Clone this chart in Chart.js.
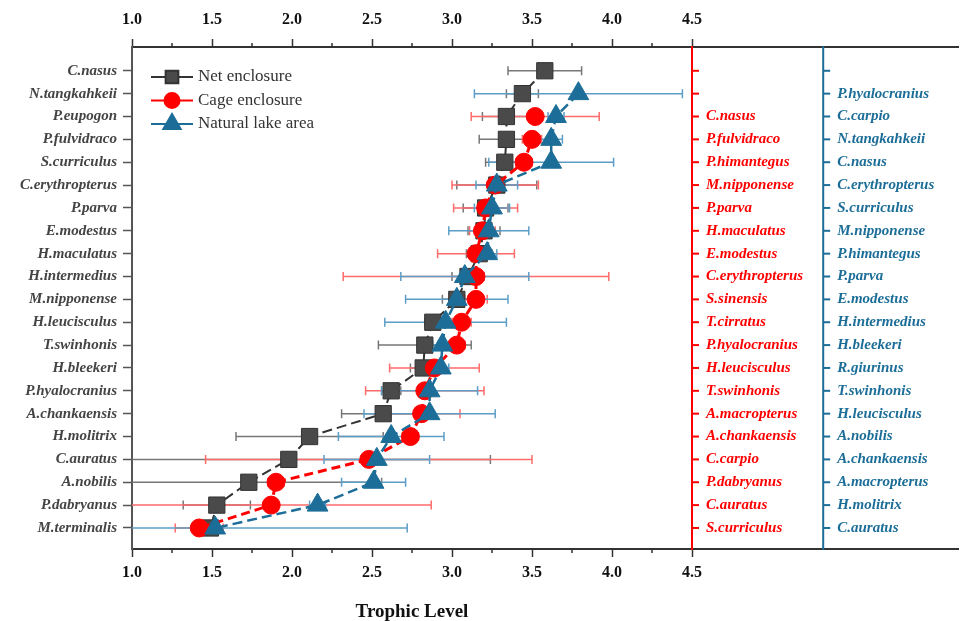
<!DOCTYPE html>
<html>
<head>
<meta charset="utf-8">
<title>Trophic level</title>
<script src="https://cdn.jsdelivr.net/npm/chart.js@4.4.1/dist/chart.umd.min.js"></script>
<style>
  html, body { margin: 0; padding: 0; background: #fff; }
  #wrap { width: 963px; height: 621px; }
</style>
</head>
<body>
<div id="wrap"><canvas id="tlChart" width="963" height="621"></canvas></div>
<script>
// species per row, top to bottom (left axis = net enclosure)
const netSpecies = ['C.nasus', 'N.tangkahkeii', 'P.eupogon', 'P.fulvidraco', 'S.curriculus',
  'C.erythropterus', 'P.parva', 'E.modestus', 'H.maculatus', 'H.intermedius', 'M.nipponense',
  'H.leucisculus', 'T.swinhonis', 'H.bleekeri', 'P.hyalocranius', 'A.chankaensis', 'H.molitrix',
  'C.auratus', 'A.nobilis', 'P.dabryanus', 'M.terminalis'];
const cageSpecies = [null, null, 'C.nasus', 'P.fulvidraco', 'P.himantegus', 'M.nipponense', 'P.parva',
  'H.maculatus', 'E.modestus', 'C.erythropterus', 'S.sinensis', 'T.cirratus', 'P.hyalocranius',
  'H.leucisculus', 'T.swinhonis', 'A.macropterus', 'A.chankaensis', 'C.carpio', 'P.dabryanus',
  'C.auratus', 'S.curriculus'];
const lakeSpecies = [null, 'P.hyalocranius', 'C.carpio', 'N.tangkahkeii', 'C.nasus', 'C.erythropterus',
  'S.curriculus', 'M.nipponense', 'P.himantegus', 'P.parva', 'E.modestus', 'H.intermedius',
  'H.bleekeri', 'R.giurinus', 'T.swinhonis', 'H.leucisculus', 'A.nobilis', 'A.chankaensis',
  'A.macropterus', 'H.molitrix', 'C.auratus'];

// mean trophic level and SD per row
const netTL = [3.58, 3.44, 3.34, 3.34, 3.33, 3.28, 3.21, 3.20, 3.17, 3.10, 3.03,
  2.88, 2.83, 2.82, 2.62, 2.57, 2.11, 1.98, 1.73, 1.53, 1.49];
const netSD = [0.23, 0.10, 0.15, 0.17, 0.12, 0.25, 0.14, 0.10, 0.08, 0.10, 0.09,
  0.05, 0.29, 0.08, 0.06, 0.26, 0.46, 1.26, 0.83, 0.21, 0.05];
const cageTL = [null, null, 3.52, 3.50, 3.45, 3.27, 3.21, 3.19, 3.15, 3.15, 3.15,
  3.06, 3.03, 2.89, 2.83, 2.81, 2.74, 2.48, 1.90, 1.87, 1.42];
const cageSD = [null, null, 0.40, 0.06, 0.05, 0.27, 0.20, 0.08, 0.24, 0.83, 0.07,
  0.06, 0.05, 0.28, 0.37, 0.24, 0.05, 1.02, 0.05, 1.00, 0.15];
const lakeTL = [null, 3.79, 3.65, 3.62, 3.62, 3.28, 3.25, 3.23, 3.22, 3.08, 3.03,
  2.96, 2.94, 2.93, 2.86, 2.86, 2.62, 2.53, 2.51, 2.16, 1.52];
const lakeSD = [null, 0.65, 0.05, 0.07, 0.39, 0.13, 0.11, 0.25, 0.06, 0.40, 0.32,
  0.38, 0.06, 0.05, 0.30, 0.41, 0.33, 0.33, 0.20, 0.05, 1.20];

const xTickValues = [1.0, 1.5, 2.0, 2.5, 3.0, 3.5, 4.0, 4.5];

const NET = '#4a4a4a', CAGE = '#ff0000', LAKE = '#1c6e98';
const cageAxisAt = 4.5;
const lakeAxisAt = 5.32;
const serif = '"Liberation Serif", "Times New Roman", serif';

function toPoints(values) {
  const pts = [];
  values.forEach((v, i) => { if (v !== null) pts.push({ x: v, y: i }); });
  return pts;
}

// horizontal error bars with caps, under the markers
const errorBars = {
  id: 'errorBars',
  beforeDatasetsDraw(chart) {
    const { ctx, chartArea, scales: { x, y } } = chart;
    ctx.save();
    ctx.beginPath();
    ctx.rect(chartArea.left, chartArea.top, chartArea.right - chartArea.left, chartArea.bottom - chartArea.top);
    ctx.clip();
    ctx.lineWidth = 1.5;
    chart.data.datasets.forEach(ds => {
      ctx.strokeStyle = ds.errColor;
      ds.data.forEach(p => {
        const sd = ds.sd[p.y];
        const py = y.getPixelForValue(p.y);
        const x0 = x.getPixelForValue(p.x - sd);
        const x1 = x.getPixelForValue(p.x + sd);
        ctx.beginPath();
        ctx.moveTo(x0, py); ctx.lineTo(x1, py);
        ctx.moveTo(x0, py - 4.5); ctx.lineTo(x0, py + 4.5);
        ctx.moveTo(x1, py - 4.5); ctx.lineTo(x1, py + 4.5);
        ctx.stroke();
      });
    });
    ctx.restore();
  }
};

// minor ticks, the two coloured species axes, legend and axis title
const decorations = {
  id: 'decorations',
  afterDraw(chart) {
    const { ctx, chartArea, scales: { x, y } } = chart;
    ctx.save();

    ctx.strokeStyle = '#333';
    ctx.lineWidth = 1.5;
    for (let i = 0; i < xTickValues.length - 1; i++) {
      const px = x.getPixelForValue((xTickValues[i] + xTickValues[i + 1]) / 2);
      ctx.beginPath();
      ctx.moveTo(px, chartArea.bottom); ctx.lineTo(px, chartArea.bottom + 4);
      ctx.moveTo(px, chartArea.top); ctx.lineTo(px, chartArea.top - 4);
      ctx.stroke();
    }

    const sideAxes = [
      { at: cageAxisAt, color: CAGE, labels: cageSpecies },
      { at: lakeAxisAt, color: LAKE, labels: lakeSpecies }
    ];
    ctx.font = 'italic bold 15px ' + serif;
    ctx.textBaseline = 'middle';
    ctx.textAlign = 'left';
    sideAxes.forEach(a => {
      const ax = x.getPixelForValue(a.at);
      ctx.strokeStyle = a.color;
      ctx.fillStyle = a.color;
      ctx.lineWidth = 2;
      ctx.beginPath();
      ctx.moveTo(ax, chartArea.top - 1); ctx.lineTo(ax, chartArea.bottom + 1);
      ctx.stroke();
      a.labels.forEach((lab, i) => {
        const py = y.getPixelForValue(i);
        ctx.beginPath();
        ctx.moveTo(ax, py); ctx.lineTo(ax + 7, py);
        ctx.stroke();
        if (lab) ctx.fillText(lab, ax + 14, py);
      });
    });

    // legend
    const lx = chartArea.left + 19;
    const ly = chartArea.top + 30;
    ctx.font = '17px ' + serif;
    chart.data.datasets.forEach((ds, i) => {
      const py = ly + i * 23.5;
      ctx.strokeStyle = ds.borderColor;
      ctx.lineWidth = 2;
      ctx.setLineDash([]);
      ctx.beginPath();
      ctx.moveTo(lx, py); ctx.lineTo(lx + 42, py);
      ctx.stroke();
      ctx.fillStyle = ds.pointBackgroundColor;
      ctx.strokeStyle = ds.pointBorderColor;
      Chart.helpers.drawPoint(ctx, {
        pointStyle: ds.pointStyle, radius: ds.legendRadius, rotation: 0, borderWidth: 1
      }, lx + 21, py);
      ctx.fillStyle = '#333';
      ctx.textAlign = 'left';
      ctx.fillText(ds.label, lx + 47, py);
    });

    ctx.font = 'bold 19px ' + serif;
    ctx.fillStyle = '#111';
    ctx.textAlign = 'center';
    ctx.fillText('Trophic Level', x.getPixelForValue((xTickValues[0] + xTickValues[xTickValues.length - 1]) / 2), 612);
    ctx.restore();
  }
};

const xMax = 6.1625;
const tickFont = { family: serif, size: 16, weight: 'bold' };

function xAxis(position, height, pad) {
  return {
    type: 'linear',
    position: position,
    min: 1,
    max: xMax,
    afterBuildTicks: s => { s.ticks = xTickValues.map(v => ({ value: v })); },
    afterFit: s => { s.height = height; },
    ticks: { font: tickFont, color: '#111', padding: pad, autoSkip: false, maxRotation: 0,
      callback: v => Number(v).toFixed(1) },
    grid: { drawOnChartArea: false, tickLength: 8, tickColor: '#333', tickWidth: 1.5 },
    border: { color: '#333', width: 2 }
  };
}

new Chart(document.getElementById('tlChart'), {
  type: 'scatter',
  data: {
    datasets: [
      {
        label: 'Net enclosure', data: toPoints(netTL), sd: netSD, errColor: '#777777',
        showLine: true, borderColor: '#333333', borderWidth: 2, borderDash: [10, 5],
        pointStyle: 'rect', pointRadius: 11.5, legendRadius: 9,
        pointBackgroundColor: NET, pointBorderColor: '#333333', pointBorderWidth: 1, order: 3
      },
      {
        label: 'Cage enclosure', data: toPoints(cageTL), sd: cageSD, errColor: '#ff6b6b',
        showLine: true, borderColor: CAGE, borderWidth: 3, borderDash: [9, 5],
        pointStyle: 'circle', pointRadius: 9, legendRadius: 7.5,
        pointBackgroundColor: CAGE, pointBorderColor: CAGE, pointBorderWidth: 1, order: 2
      },
      {
        label: 'Natural lake area', data: toPoints(lakeTL), sd: lakeSD, errColor: '#5d9ec6',
        showLine: true, borderColor: LAKE, borderWidth: 2.5, borderDash: [10, 5],
        pointStyle: 'triangle', pointRadius: 12, legendRadius: 10,
        pointBackgroundColor: LAKE, pointBorderColor: LAKE, pointBorderWidth: 1, order: 1
      }
    ]
  },
  options: {
    responsive: false,
    animation: false,
    layout: { autoPadding: false, padding: { left: 0, right: 5, top: 0, bottom: 0 } },
    plugins: { legend: { display: false }, tooltip: { enabled: false } },
    scales: {
      x: xAxis('bottom', 72, 6),
      x2: xAxis('top', 47, 10),
      y: {
        type: 'linear',
        reverse: true,
        min: -1.04,
        max: 20.92,
        afterBuildTicks: s => { s.ticks = netSpecies.map((_, i) => ({ value: i })); },
        afterFit: s => { s.width = 132; },
        ticks: { font: { family: serif, size: 15, weight: 'bold', style: 'italic' }, color: '#444',
          padding: 6, autoSkip: false, callback: v => netSpecies[v] },
        grid: { drawOnChartArea: false, tickLength: 9, tickColor: '#555', tickWidth: 1.5 },
        border: { color: '#555', width: 2 }
      }
    }
  },
  plugins: [errorBars, decorations]
});
</script>
</body>
</html>
